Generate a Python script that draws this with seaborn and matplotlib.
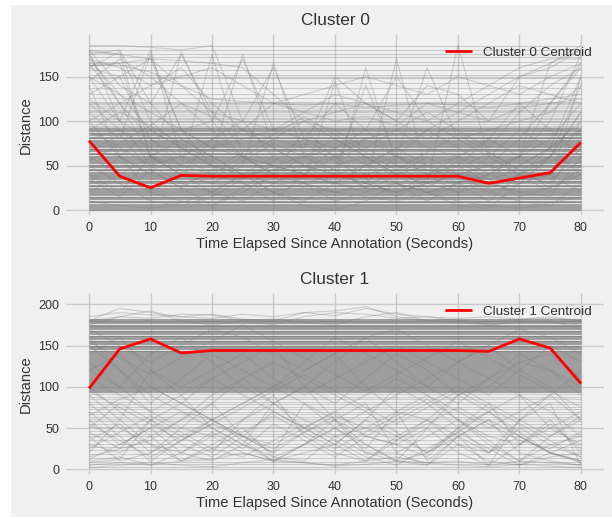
import numpy as np
import pandas as pd
import matplotlib
matplotlib.use("Agg")
import matplotlib.pyplot as plt
from matplotlib.patches import Rectangle
import seaborn as sns

plt.style.use("fivethirtyeight")
plt.rcParams["font.family"] = ["Liberation Sans", "DejaVu Sans"]

times = [0, 5, 10, 15, 20, 25, 30, 35, 40, 45, 50, 55, 60, 65, 70, 75, 80]
x_ticks = [0, 10, 20, 30, 40, 50, 60, 70, 80]

centroid0 = [78, 38, 25, 39, 38, 38, 38, 38, 38, 38, 38, 38, 38, 30, 36, 42, 76]
centroid1 = [98, 146, 158, 141, 144, 144, 144, 144, 144, 144, 144, 144, 144, 143, 158, 147, 104]

# cluster 0: flat trajectories (constant distance), read as levels
flat0_dense = [0.5, 1, 2.5, 3, 4.5, 6, 7, 8.5, 9, 10.5, 12, 13, 14.5, 15, 16.5, 18, 19, 20.5,
               21, 22.5, 24, 25, 26.5, 27, 28.5, 30, 31, 32.5, 33, 34.5, 36, 37, 38.5, 39,
               40.5, 42, 43, 44.5, 45, 46.5, 48, 49, 50.5, 51, 52.5, 54, 55, 56.5, 57, 58.5,
               60, 61, 62.5, 63, 64.5, 66, 67, 68.5, 69, 70.5, 72, 73, 74.5, 75, 76.5, 78,
               79, 80.5, 81, 82.5, 84, 85, 86.5, 87, 88.5, 90, 91, 92]
flat0_sparse = [93.5, 95, 97, 99, 100, 102, 104, 106, 108, 110, 111, 113, 115, 117, 119, 120,
                122, 126, 131, 137, 143, 149, 152, 158, 163, 167, 172, 176, 180, 184]
jag0 = [
    [180, 175, 60, 40, 30, 25, 35, 30, 20, 25, 30, 20, 25, 30, 20, 15, 60],
    [165, 165, 170, 90, 50, 40, 30, 45, 50, 60, 40, 35, 30, 45, 60, 80, 120],
    [175, 180, 120, 80, 60, 175, 70, 50, 40, 30, 20, 30, 40, 50, 40, 30, 150],
    [150, 100, 180, 60, 40, 35, 50, 40, 30, 160, 50, 40, 45, 30, 35, 40, 90],
    [140, 60, 40, 178, 100, 60, 50, 40, 30, 25, 20, 30, 185, 60, 40, 30, 70],
    [160, 150, 80, 50, 175, 60, 40, 30, 145, 50, 40, 30, 40, 50, 60, 165, 180],
    [120, 90, 60, 40, 30, 50, 165, 60, 40, 30, 170, 40, 50, 30, 40, 60, 110],
    [185, 185, 183, 180, 185, 100, 60, 40, 30, 20, 30, 40, 30, 20, 30, 40, 80],
    [178, 175, 170, 168, 165, 160, 130, 100, 80, 60, 40, 30, 20, 40, 60, 120, 160],
    [100, 120, 140, 160, 120, 90, 80, 70, 150, 120, 100, 140, 130, 100, 150, 160, 180],
    [60, 40, 20, 10, 5, 20, 40, 60, 80, 60, 40, 20, 5, 2, 30, 60, 140],
    [90, 110, 95, 120, 105, 90, 120, 110, 100, 105, 95, 120, 110, 100, 115, 120, 125],
    [50, 30, 10, 5, 15, 35, 50, 30, 10, 20, 40, 60, 40, 20, 10, 5, 30],
    [30, 60, 90, 70, 50, 30, 10, 40, 70, 50, 30, 10, 30, 60, 90, 70, 40],
    [163, 163, 155, 140, 125, 122, 120, 118, 120, 115, 118, 120, 118, 115, 120, 125, 130],
    [130, 150, 170, 140, 110, 100, 90, 110, 130, 120, 110, 100, 120, 140, 160, 170, 170],
    [170, 130, 90, 70, 60, 40, 30, 25, 20, 30, 40, 50, 60, 40, 30, 40, 100],
    [10, 5, 2, 8, 20, 40, 20, 5, 0, 10, 30, 20, 10, 5, 2, 8, 15],
    [175, 120, 80, 60, 50, 45, 40, 35, 30, 40, 50, 45, 40, 35, 45, 60, 90],
    [160, 178, 100, 70, 50, 40, 45, 50, 60, 40, 30, 20, 30, 40, 50, 70, 150],
    [145, 170, 150, 120, 90, 60, 40, 30, 20, 15, 10, 20, 30, 40, 60, 100, 175],
    [180, 140, 120, 175, 110, 70, 50, 60, 70, 80, 90, 70, 60, 50, 80, 120, 165],
    [110, 80, 175, 90, 70, 60, 50, 40, 60, 80, 60, 40, 20, 30, 50, 70, 90],
    [90, 70, 50, 60, 80, 100, 160, 80, 60, 70, 90, 110, 90, 70, 110, 140, 160],
    [70, 60, 40, 30, 20, 40, 60, 80, 120, 90, 60, 160, 80, 60, 40, 20, 50],
    [165, 120, 60, 50, 70, 90, 70, 50, 30, 50, 70, 90, 110, 130, 150, 165, 185],
    [40, 20, 60, 80, 60, 40, 20, 10, 30, 50, 70, 50, 30, 10, 40, 70, 100],
    [80, 90, 70, 50, 40, 60, 80, 100, 90, 70, 50, 30, 50, 80, 120, 90, 60],
    [20, 40, 60, 40, 20, 10, 30, 50, 40, 30, 20, 40, 60, 80, 60, 40, 20],
    [150, 130, 110, 90, 70, 80, 90, 100, 110, 120, 100, 80, 100, 120, 140, 130, 120],
    [100, 60, 20, 40, 80, 60, 40, 90, 60, 30, 60, 90, 70, 50, 30, 60, 110],
    [55, 75, 95, 75, 55, 35, 55, 75, 55, 35, 15, 35, 55, 35, 15, 25, 45],
    [170, 160, 140, 150, 160, 140, 120, 130, 140, 150, 140, 130, 150, 140, 130, 150, 165],
    [125, 100, 80, 90, 100, 170, 90, 80, 70, 90, 150, 100, 80, 90, 100, 110, 140],
    [35, 15, 45, 25, 5, 25, 45, 65, 45, 25, 45, 65, 85, 65, 45, 35, 55],
    [65, 85, 45, 25, 45, 65, 85, 105, 85, 65, 45, 25, 45, 65, 45, 25, 85],
    [178, 100, 50, 30, 40, 30, 20, 30, 40, 50, 60, 50, 40, 30, 20, 25, 40],
    [162, 165, 60, 45, 35, 55, 75, 60, 45, 140, 60, 45, 35, 25, 40, 55, 70],
]

# cluster 1
flat1_dense = [94, 95.5, 96, 97.5, 99, 100, 101.5, 102, 103.5, 105, 106, 107.5, 108, 109.5,
               111, 112, 113.5, 114, 115.5, 117, 118, 119.5, 120, 121.5, 123, 124, 125.5,
               126, 127.5, 129, 130, 131.5, 132, 133.5, 135, 136, 137.5, 138, 139.5, 141,
               142, 143.5, 144, 145.5, 147, 148, 149.5, 150, 151.5, 153, 154, 155.5, 156,
               157.5, 159, 160, 161.5, 162, 163.5, 165, 166, 167.5, 168, 169.5, 171, 172,
               173.5, 174, 175.5, 177, 178, 179.5, 180, 181, 182]
flat1_sparse = [3, 6, 9, 14, 19, 23, 27, 31, 36, 40, 43, 47, 51, 55, 58, 61, 64, 67, 70, 73,
                76, 79, 82, 85, 88, 91]
jag1 = [
    [180, 195, 190, 185, 188, 182, 180, 190, 192, 197, 185, 180, 182, 175, 178, 180, 170],
    [10, 15, 5, 20, 10, 30, 15, 10, 40, 20, 10, 5, 30, 10, 5, 15, 20],
    [20, 60, 120, 90, 50, 30, 80, 100, 60, 30, 10, 50, 90, 70, 40, 20, 10],
    [8, 12, 60, 30, 15, 40, 20, 80, 50, 25, 70, 10, 40, 5, 60, 80, 5],
    [70, 40, 10, 35, 60, 40, 30, 50, 70, 40, 30, 15, 50, 80, 30, 60, 20],
    [50, 80, 60, 40, 20, 60, 90, 40, 20, 10, 40, 60, 30, 20, 40, 20, 10],
    [30, 20, 40, 10, 30, 50, 15, 30, 60, 20, 20, 40, 60, 30, 10, 30, 40],
    [100, 70, 40, 60, 90, 110, 80, 50, 30, 60, 100, 80, 50, 20, 60, 90, 60],
    [150, 120, 90, 70, 60, 80, 100, 120, 140, 100, 70, 60, 90, 110, 130, 120, 100],
    [5, 8, 5, 10, 12, 20, 10, 8, 5, 10, 15, 8, 10, 5, 10, 8, 5],
    [90, 60, 30, 20, 40, 60, 80, 60, 40, 50, 70, 90, 60, 40, 30, 50, 70],
    [40, 10, 20, 50, 40, 20, 10, 20, 30, 60, 40, 20, 50, 70, 90, 50, 30],
    [120, 140, 100, 80, 110, 130, 150, 100, 80, 110, 140, 120, 90, 100, 130, 140, 110],
    [60, 30, 50, 20, 45, 25, 55, 35, 15, 40, 30, 50, 20, 5, 30, 55, 25],
    [180, 185, 183, 188, 187, 180, 175, 185, 190, 188, 183, 185, 180, 178, 182, 183, 180],
    [15, 25, 35, 60, 80, 40, 20, 45, 60, 80, 20, 5, 40, 60, 20, 10, 5],
    [175, 185, 192, 180, 175, 180, 182, 178, 175, 185, 190, 180, 178, 175, 180, 178, 175],
    [160, 120, 80, 110, 140, 120, 100, 130, 160, 140, 120, 100, 130, 150, 120, 100, 60],
    [130, 100, 70, 50, 80, 110, 130, 110, 90, 70, 90, 110, 130, 110, 90, 70, 40],
    [45, 25, 60, 80, 60, 40, 70, 50, 30, 10, 35, 60, 40, 20, 50, 30, 15],
    [80, 50, 30, 10, 25, 45, 65, 45, 25, 45, 65, 85, 60, 35, 10, 40, 65],
    [110, 90, 70, 90, 110, 90, 70, 50, 70, 90, 110, 90, 70, 50, 70, 90, 120],
    [25, 45, 65, 45, 25, 15, 35, 55, 35, 15, 5, 25, 45, 25, 5, 20, 35],
    [140, 160, 120, 100, 120, 140, 110, 90, 110, 130, 150, 130, 110, 90, 120, 150, 130],
    [65, 85, 100, 80, 60, 80, 100, 80, 60, 40, 60, 80, 100, 80, 60, 40, 60],
    [12, 30, 50, 70, 50, 30, 10, 30, 50, 30, 10, 20, 40, 60, 40, 20, 10],
    [170, 150, 130, 150, 170, 160, 140, 120, 140, 160, 170, 150, 130, 150, 170, 160, 140],
    [95, 75, 55, 35, 55, 75, 95, 115, 95, 75, 55, 75, 95, 75, 55, 35, 15],
    [35, 55, 20, 40, 60, 35, 10, 30, 50, 70, 45, 20, 45, 70, 45, 20, 8],
    [155, 135, 115, 135, 155, 175, 155, 135, 115, 95, 115, 135, 155, 135, 115, 95, 75],
    [2, 5, 8, 5, 3, 8, 12, 8, 4, 6, 10, 8, 5, 3, 6, 4, 2],
    [120, 100, 140, 160, 130, 100, 80, 100, 130, 160, 130, 100, 80, 110, 140, 120, 90],
    [55, 35, 15, 35, 55, 40, 25, 45, 65, 50, 35, 55, 75, 55, 35, 25, 45],
    [185, 190, 187, 185, 183, 188, 185, 190, 186, 195, 188, 185, 183, 185, 182, 185, 180],
]


def long_df(levels, jagged):
    rows = []
    sid = 0
    for lv in levels:
        for t in times:
            rows.append((sid, t, lv))
        sid += 1
    for series in jagged:
        for t, v in zip(times, series):
            rows.append((sid, t, v))
        sid += 1
    return pd.DataFrame(rows, columns=["series", "time", "distance"])


fig = plt.figure(figsize=(6.12, 5.18), dpi=100, facecolor="white")
fig.patches.append(Rectangle((11 / 612, 1 / 518), 1 - 11 / 612, 512 / 518,
                             transform=fig.transFigure, facecolor="#f0f0f0",
                             edgecolor="none", zorder=-10))

txt = "#333333"
configs = [
    (0, [0.1078, 0.5849, 0.8791, 0.3488], flat0_dense, flat0_sparse, jag0, centroid0,
     (-5.6, 197.6), [0, 50, 100, 150]),
    (1, [0.1078, 0.0849, 0.8791, 0.3488], flat1_dense, flat1_sparse, jag1, centroid1,
     (-5.7, 213.3), [0, 50, 100, 150, 200]),
]

for k, pos, dense, sparse, jag, cen, ylim, yt in configs:
    ax = fig.add_axes(pos)
    ax.set_facecolor("#f0f0f0")
    d_dense = long_df(dense, [])
    d_sparse = long_df(sparse, jag)
    sns.lineplot(data=d_dense, x="time", y="distance", units="series", estimator=None,
                 color="gray", alpha=0.7, lw=0.8, ax=ax, legend=False)
    sns.lineplot(data=d_sparse, x="time", y="distance", units="series", estimator=None,
                 color="gray", alpha=0.33, lw=0.8, ax=ax, legend=False)
    sns.lineplot(x=times, y=cen, color="red", lw=2, ax=ax, label=f"Cluster {k} Centroid")
    ax.set_xlim(-3.75, 83.75)
    ax.set_ylim(*ylim)
    ax.set_xticks(x_ticks)
    ax.set_yticks(yt)
    ax.grid(True, color="#cbcbcb", lw=1)
    ax.tick_params(axis="both", length=0, labelsize=9, colors=txt, pad=5)
    for s in ax.spines.values():
        s.set_visible(False)
    ax.set_title(f"Cluster {k}", fontsize=12.4, color=txt, pad=6.5)
    ax.set_xlabel("Time Elapsed Since Annotation (Seconds)", fontsize=10.6, color=txt, labelpad=2)
    ax.set_ylabel("Distance", fontsize=10.6, color=txt, labelpad=4)
    leg = ax.legend(loc="upper right", frameon=False, fontsize=9.7)
    for t in leg.get_texts():
        t.set_color(txt)

fig.savefig("out.png", dpi=100, facecolor=fig.get_facecolor())
